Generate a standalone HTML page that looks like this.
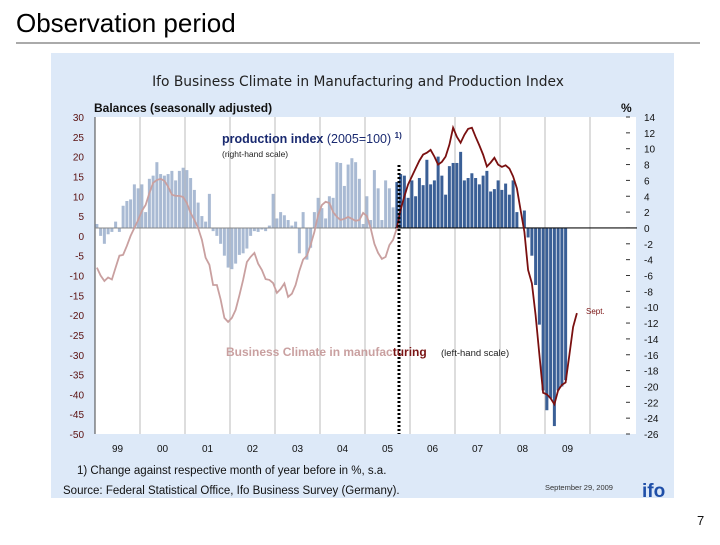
<!DOCTYPE html>
<html><head><meta charset="utf-8"><style>
body{margin:0;width:720px;height:540px;background:#fff;overflow:hidden;font-family:"Liberation Sans",sans-serif}
</style></head><body>
<svg width="720" height="540" viewBox="0 0 720 540" xmlns="http://www.w3.org/2000/svg" font-family="Liberation Sans, sans-serif">
<text x="16" y="32" font-size="26" fill="#000">Observation period</text>
<line x1="16" y1="43" x2="700" y2="43" stroke="#555" stroke-width="1"/>
<rect x="51" y="53" width="623" height="445" fill="#dde9f8"/>
<text x="358" y="86" font-size="13.8" text-anchor="middle" font-family="DejaVu Sans, sans-serif" fill="#222">Ifo Business Climate in Manufacturing and Production Index</text>
<text x="94" y="112" font-size="12" font-weight="bold" fill="#111">Balances (seasonally adjusted)</text>
<text x="621" y="112" font-size="12" font-weight="bold" fill="#111">%</text>
<rect x="95" y="117" width="541" height="317" fill="#fff"/>
<g id="chart"></g>
<text x="222" y="143" font-size="12.5" fill="#1a2a70"><tspan font-weight="bold">production index</tspan> (2005=100) <tspan font-size="8" dy="-5" font-weight="bold">1)</tspan></text>
<text x="222" y="157" font-size="8.5" fill="#222">(right-hand scale)</text>
<text x="226" y="356" font-size="12" font-weight="bold"><tspan fill="#c9a0a0">Business Climate in manufac</tspan><tspan fill="#7a1414">turing</tspan></text>
<text x="441" y="356" font-size="9.5" fill="#222">(left-hand scale)</text>
<text x="586" y="314" font-size="8" fill="#7a1414">Sept.</text>
<text x="77" y="474" font-size="11.5" fill="#111">1) Change against respective month of year before in %, s.a.</text>
<text x="63" y="494" font-size="11.5" fill="#111">Source: Federal Statistical Office, Ifo Business Survey (Germany).</text>
<text x="545" y="490" font-size="7.5" fill="#333">September 29, 2009</text>
<text x="642" y="497" font-size="19" font-weight="bold" fill="#1f4fa8">ifo</text>
<text x="697" y="525" font-size="13" fill="#111">7</text>
</svg>
<script>
const years=['99','00','01','02','03','04','05','06','07','08','09'];
const leftTicks=[30,25,20,15,10,5,0,-5,-10,-15,-20,-25,-30,-35,-40,-45,-50];
const rightTicks=[14,12,10,8,6,4,2,0,-2,-4,-6,-8,-10,-12,-14,-16,-18,-20,-22,-24,-26];
const production=[0.5,-1,-2,-0.8,-0.5,0.8,-0.5,2.8,3.4,3.6,5.5,5,
5.5,2.0,6.2,6.6,8.3,6.8,6.6,6.8,7.2,6.0,7.2,7.6,
7.3,6.3,4.8,3.2,1.5,0.8,4.3,-0.4,-1,-2,-3.5,-5,
-5.2,-4.5,-3.4,-3.2,-2.6,-1.0,-0.4,-0.5,-0.2,-0.4,0.3,4.3,
1.2,2.0,1.6,1.0,0.3,0.8,-3.2,2.0,-4.0,-2.5,2.0,3.8,
2.5,1.2,4.0,3.8,8.3,8.2,5.3,8.0,8.8,8.3,6.2,0.5,
4.0,1.0,7.3,5.0,1.0,6.0,5.0,2.6,5.8,6.8,6.6,3.8,
6.0,4.0,6.3,5.4,8.6,5.5,6.0,9.0,6.6,4.2,7.8,8.2,
8.2,9.6,6.0,6.3,6.9,6.3,5.5,6.6,7.2,4.6,4.9,6.0,
4.8,5.6,4.2,6.0,2.0,0,2.2,-1.2,-3.5,-7.2,-12.2,-20.5,
-23,-21.5,-25,-20.5,-20,-19.2];
const climate=[-8,-10,-11.4,-10.5,-11,-8,-5,-4.8,-2.5,0,2,4,
6.3,7.8,10.8,13.4,14.1,14.4,13.9,12.4,10.4,10.1,10.1,9.8,
8.3,5.8,4,2,-1,-5.5,-7.3,-12.4,-12.4,-16,-20.7,-21.7,
-20.7,-18.7,-15,-11.1,-6.6,-5.3,-4.3,-7,-8.6,-10.9,-11.1,-11.9,
-14.4,-13.4,-12,-15.4,-14.6,-12.4,-8.8,-6,-5,-2.3,1,5.3,
7.8,8.6,8.3,6,4.8,4,4.3,4.8,4.3,3.8,4,5.8,
5,2,-2,-4.3,-5.8,-5.3,-2.3,-1,2,6.6,10,13,
15,17,19,20.5,21,21.7,20,18,18.7,20,23,27.3,
25,23.5,25.5,27,27.3,25,22.8,20.5,17.5,18.5,19.7,18,
17.4,17.8,17,15,12,6.5,1,-8.6,-12,-20,-30,-39.6,
-40,-41,-42.5,-39,-37.6,-37,-30,-23,-19.5];
const SPLIT=80;
const NS='http://www.w3.org/2000/svg';
const g=document.getElementById('chart');
const X0=95,MW=3.75,YT=117,YB=434;
const xm=i=>X0+MW*(i+0.5);
const yL=v=>YT+(30-v)*(YB-YT)/80;
const yR=v=>YT+(14-v)*(YB-YT)/40;
function mk(t,a){const e=document.createElementNS(NS,t);for(const k in a)e.setAttribute(k,a[k]);g.appendChild(e);return e;}
years.forEach((y,i)=>{
  const x=X0+45*(i+1);
  const l=mk('line',{x1:x,y1:YT,x2:x,y2:YB,stroke:'#bbb','stroke-width':1});
  
  
  const t=mk('text',{x:X0+45*i+22.5,y:452,'font-size':10,'text-anchor':'middle',fill:'#111'});t.textContent=y;
  
  
});
const la=mk('line',{x1:X0,y1:YT,x2:X0,y2:YB,stroke:'#444','stroke-width':1});


leftTicks.forEach(v=>{const t=mk('text',{x:84,y:yL(v)+4,'font-size':10,'text-anchor':'end',fill:'#5a1010'});t.textContent=v;

});
rightTicks.forEach(v=>{const y=yR(v);
const d=mk('line',{x1:626,y1:y,x2:630,y2:y,stroke:'#333','stroke-width':1});


const t=mk('text',{x:644,y:y+4,'font-size':10,fill:'#111'});t.textContent=v;

});
production.forEach((v,i)=>{
  const y0=yR(0),y1=yR(v);
  const r=mk('rect',{x:xm(i)-1.5,y:Math.min(y0,y1),width:3,height:Math.abs(y1-y0),fill:i>=SPLIT?'#3a5f96':'#a9bad3'});
  
  
});
const z=mk('line',{x1:X0,y1:yR(0),x2:637,y2:yR(0),stroke:'#888','stroke-width':1});


const z2=mk('line',{x1:xm(SPLIT)-2,y1:yR(0),x2:637,y2:yR(0),stroke:'#111','stroke-width':1.2});


function pts(a,b){let s=[];for(let i=a;i<=b;i++)s.push(xm(i).toFixed(1)+','+yL(climate[i]).toFixed(1));return s.join(' ');}
const l1=mk('polyline',{points:pts(0,SPLIT),fill:'none',stroke:'#c9a0a0','stroke-width':1.8});


const l2=mk('polyline',{points:pts(SPLIT,climate.length-1),fill:'none',stroke:'#7a1010','stroke-width':1.8});


const dl=mk('line',{x1:399,y1:165,x2:399,y2:YB,stroke:'#000','stroke-width':3,'stroke-dasharray':'2,2'});


</script>
</body></html>
